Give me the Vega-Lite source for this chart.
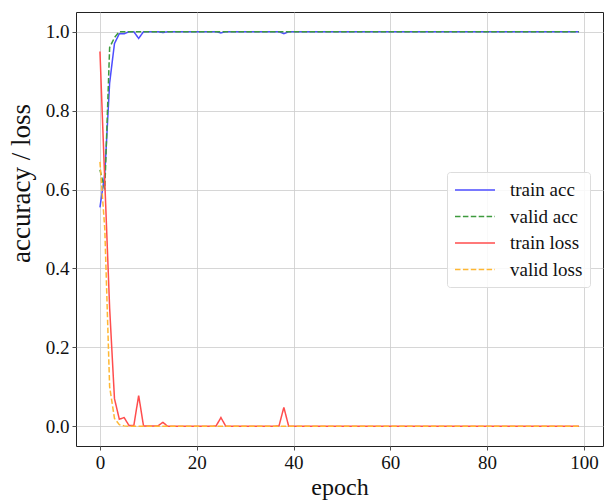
{
  "$schema": "https://vega.github.io/schema/vega-lite/v6.json",
  "width": 527,
  "height": 434,
  "autosize": "none",
  "padding": {"left": 76, "top": 12, "right": 3, "bottom": 56},
  "background": "white",
  "config": {
    "font": "Liberation Serif",
    "view": {"stroke": "#222222", "strokeWidth": 1},
    "axis": {
      "labelFont": "Liberation Serif",
      "titleFont": "Liberation Serif",
      "labelColor": "#111111",
      "titleColor": "#111111",
      "titleFontWeight": "normal",
      "domain": false,
      "tickColor": "#222222",
      "tickSize": 4,
      "tickWidth": 0.8,
      "gridColor": "#cccccc",
      "gridWidth": 0.8,
      "labelFontSize": 19,
      "titleFontSize": 25
    },
    "legend": {
      "labelFont": "Liberation Serif",
      "labelFontSize": 19,
      "labelColor": "#111111"
    }
  },
  "data": {
    "values": [
      {"epoch":0,"train_acc":0.555,"valid_acc":0.65,"train_loss":0.95,"valid_loss":0.67},
      {"epoch":1,"train_acc":0.64,"valid_acc":0.6,"train_loss":0.62,"valid_loss":0.5},
      {"epoch":2,"train_acc":0.87,"valid_acc":0.96,"train_loss":0.3,"valid_loss":0.1},
      {"epoch":3,"train_acc":0.97,"valid_acc":0.985,"train_loss":0.07,"valid_loss":0.02},
      {"epoch":4,"train_acc":0.995,"valid_acc":1,"train_loss":0.018,"valid_loss":0.004},
      {"epoch":5,"train_acc":0.995,"valid_acc":1,"train_loss":0.022,"valid_loss":0.001},
      {"epoch":6,"train_acc":1,"valid_acc":1,"train_loss":0.002,"valid_loss":0},
      {"epoch":7,"train_acc":1,"valid_acc":1,"train_loss":0.002,"valid_loss":0},
      {"epoch":8,"train_acc":0.983,"valid_acc":1,"train_loss":0.078,"valid_loss":0},
      {"epoch":9,"train_acc":1,"valid_acc":1,"train_loss":0.001,"valid_loss":0},
      {"epoch":10,"train_acc":1,"valid_acc":1,"train_loss":0.001,"valid_loss":0},
      {"epoch":11,"train_acc":1,"valid_acc":1,"train_loss":0.001,"valid_loss":0},
      {"epoch":12,"train_acc":1,"valid_acc":1,"train_loss":0.001,"valid_loss":0},
      {"epoch":13,"train_acc":0.998,"valid_acc":1,"train_loss":0.01,"valid_loss":0},
      {"epoch":14,"train_acc":1,"valid_acc":1,"train_loss":0,"valid_loss":0},
      {"epoch":15,"train_acc":1,"valid_acc":1,"train_loss":0,"valid_loss":0},
      {"epoch":16,"train_acc":1,"valid_acc":1,"train_loss":0,"valid_loss":0},
      {"epoch":17,"train_acc":1,"valid_acc":1,"train_loss":0,"valid_loss":0},
      {"epoch":18,"train_acc":1,"valid_acc":1,"train_loss":0,"valid_loss":0},
      {"epoch":19,"train_acc":1,"valid_acc":1,"train_loss":0,"valid_loss":0},
      {"epoch":20,"train_acc":1,"valid_acc":1,"train_loss":0,"valid_loss":0},
      {"epoch":21,"train_acc":1,"valid_acc":1,"train_loss":0,"valid_loss":0},
      {"epoch":22,"train_acc":1,"valid_acc":1,"train_loss":0,"valid_loss":0},
      {"epoch":23,"train_acc":1,"valid_acc":1,"train_loss":0,"valid_loss":0},
      {"epoch":24,"train_acc":1,"valid_acc":1,"train_loss":0.001,"valid_loss":0},
      {"epoch":25,"train_acc":0.997,"valid_acc":1,"train_loss":0.022,"valid_loss":0},
      {"epoch":26,"train_acc":1,"valid_acc":1,"train_loss":0,"valid_loss":0},
      {"epoch":27,"train_acc":1,"valid_acc":1,"train_loss":0,"valid_loss":0},
      {"epoch":28,"train_acc":1,"valid_acc":1,"train_loss":0,"valid_loss":0},
      {"epoch":29,"train_acc":1,"valid_acc":1,"train_loss":0,"valid_loss":0},
      {"epoch":30,"train_acc":1,"valid_acc":1,"train_loss":0,"valid_loss":0},
      {"epoch":31,"train_acc":1,"valid_acc":1,"train_loss":0,"valid_loss":0},
      {"epoch":32,"train_acc":1,"valid_acc":1,"train_loss":0,"valid_loss":0},
      {"epoch":33,"train_acc":1,"valid_acc":1,"train_loss":0,"valid_loss":0},
      {"epoch":34,"train_acc":1,"valid_acc":1,"train_loss":0,"valid_loss":0},
      {"epoch":35,"train_acc":1,"valid_acc":1,"train_loss":0,"valid_loss":0},
      {"epoch":36,"train_acc":1,"valid_acc":1,"train_loss":0,"valid_loss":0},
      {"epoch":37,"train_acc":1,"valid_acc":1,"train_loss":0.001,"valid_loss":0},
      {"epoch":38,"train_acc":0.995,"valid_acc":1,"train_loss":0.048,"valid_loss":0},
      {"epoch":39,"train_acc":1,"valid_acc":1,"train_loss":0,"valid_loss":0},
      {"epoch":40,"train_acc":1,"valid_acc":1,"train_loss":0,"valid_loss":0},
      {"epoch":41,"train_acc":1,"valid_acc":1,"train_loss":0,"valid_loss":0},
      {"epoch":42,"train_acc":1,"valid_acc":1,"train_loss":0,"valid_loss":0},
      {"epoch":43,"train_acc":1,"valid_acc":1,"train_loss":0,"valid_loss":0},
      {"epoch":44,"train_acc":1,"valid_acc":1,"train_loss":0,"valid_loss":0},
      {"epoch":45,"train_acc":1,"valid_acc":1,"train_loss":0,"valid_loss":0},
      {"epoch":46,"train_acc":1,"valid_acc":1,"train_loss":0,"valid_loss":0},
      {"epoch":47,"train_acc":1,"valid_acc":1,"train_loss":0,"valid_loss":0},
      {"epoch":48,"train_acc":1,"valid_acc":1,"train_loss":0,"valid_loss":0},
      {"epoch":49,"train_acc":1,"valid_acc":1,"train_loss":0,"valid_loss":0},
      {"epoch":50,"train_acc":1,"valid_acc":1,"train_loss":0,"valid_loss":0},
      {"epoch":51,"train_acc":1,"valid_acc":1,"train_loss":0,"valid_loss":0},
      {"epoch":52,"train_acc":1,"valid_acc":1,"train_loss":0,"valid_loss":0},
      {"epoch":53,"train_acc":1,"valid_acc":1,"train_loss":0,"valid_loss":0},
      {"epoch":54,"train_acc":1,"valid_acc":1,"train_loss":0,"valid_loss":0},
      {"epoch":55,"train_acc":1,"valid_acc":1,"train_loss":0,"valid_loss":0},
      {"epoch":56,"train_acc":1,"valid_acc":1,"train_loss":0,"valid_loss":0},
      {"epoch":57,"train_acc":1,"valid_acc":1,"train_loss":0,"valid_loss":0},
      {"epoch":58,"train_acc":1,"valid_acc":1,"train_loss":0,"valid_loss":0},
      {"epoch":59,"train_acc":1,"valid_acc":1,"train_loss":0,"valid_loss":0},
      {"epoch":60,"train_acc":1,"valid_acc":1,"train_loss":0,"valid_loss":0},
      {"epoch":61,"train_acc":1,"valid_acc":1,"train_loss":0,"valid_loss":0},
      {"epoch":62,"train_acc":1,"valid_acc":1,"train_loss":0,"valid_loss":0},
      {"epoch":63,"train_acc":1,"valid_acc":1,"train_loss":0,"valid_loss":0},
      {"epoch":64,"train_acc":1,"valid_acc":1,"train_loss":0,"valid_loss":0},
      {"epoch":65,"train_acc":1,"valid_acc":1,"train_loss":0,"valid_loss":0},
      {"epoch":66,"train_acc":1,"valid_acc":1,"train_loss":0,"valid_loss":0},
      {"epoch":67,"train_acc":1,"valid_acc":1,"train_loss":0,"valid_loss":0},
      {"epoch":68,"train_acc":1,"valid_acc":1,"train_loss":0,"valid_loss":0},
      {"epoch":69,"train_acc":1,"valid_acc":1,"train_loss":0,"valid_loss":0},
      {"epoch":70,"train_acc":1,"valid_acc":1,"train_loss":0,"valid_loss":0},
      {"epoch":71,"train_acc":1,"valid_acc":1,"train_loss":0,"valid_loss":0},
      {"epoch":72,"train_acc":1,"valid_acc":1,"train_loss":0,"valid_loss":0},
      {"epoch":73,"train_acc":1,"valid_acc":1,"train_loss":0,"valid_loss":0},
      {"epoch":74,"train_acc":1,"valid_acc":1,"train_loss":0,"valid_loss":0},
      {"epoch":75,"train_acc":1,"valid_acc":1,"train_loss":0,"valid_loss":0},
      {"epoch":76,"train_acc":1,"valid_acc":1,"train_loss":0,"valid_loss":0},
      {"epoch":77,"train_acc":1,"valid_acc":1,"train_loss":0,"valid_loss":0},
      {"epoch":78,"train_acc":1,"valid_acc":1,"train_loss":0,"valid_loss":0},
      {"epoch":79,"train_acc":1,"valid_acc":1,"train_loss":0,"valid_loss":0},
      {"epoch":80,"train_acc":1,"valid_acc":1,"train_loss":0,"valid_loss":0},
      {"epoch":81,"train_acc":1,"valid_acc":1,"train_loss":0,"valid_loss":0},
      {"epoch":82,"train_acc":1,"valid_acc":1,"train_loss":0,"valid_loss":0},
      {"epoch":83,"train_acc":1,"valid_acc":1,"train_loss":0,"valid_loss":0},
      {"epoch":84,"train_acc":1,"valid_acc":1,"train_loss":0,"valid_loss":0},
      {"epoch":85,"train_acc":1,"valid_acc":1,"train_loss":0,"valid_loss":0},
      {"epoch":86,"train_acc":1,"valid_acc":1,"train_loss":0,"valid_loss":0},
      {"epoch":87,"train_acc":1,"valid_acc":1,"train_loss":0,"valid_loss":0},
      {"epoch":88,"train_acc":1,"valid_acc":1,"train_loss":0,"valid_loss":0},
      {"epoch":89,"train_acc":1,"valid_acc":1,"train_loss":0,"valid_loss":0},
      {"epoch":90,"train_acc":1,"valid_acc":1,"train_loss":0,"valid_loss":0},
      {"epoch":91,"train_acc":1,"valid_acc":1,"train_loss":0,"valid_loss":0},
      {"epoch":92,"train_acc":1,"valid_acc":1,"train_loss":0,"valid_loss":0},
      {"epoch":93,"train_acc":1,"valid_acc":1,"train_loss":0,"valid_loss":0},
      {"epoch":94,"train_acc":1,"valid_acc":1,"train_loss":0,"valid_loss":0},
      {"epoch":95,"train_acc":1,"valid_acc":1,"train_loss":0,"valid_loss":0},
      {"epoch":96,"train_acc":1,"valid_acc":1,"train_loss":0,"valid_loss":0},
      {"epoch":97,"train_acc":1,"valid_acc":1,"train_loss":0,"valid_loss":0},
      {"epoch":98,"train_acc":1,"valid_acc":1,"train_loss":0,"valid_loss":0},
      {"epoch":99,"train_acc":1,"valid_acc":1,"train_loss":0,"valid_loss":0}
    ]
  },
  "transform": [
    {"fold": ["train_acc", "valid_acc", "train_loss", "valid_loss"], "as": ["series", "value"]}
  ],
  "mark": {"type": "line", "strokeWidth": 1.5, "clip": true},
  "encoding": {
    "x": {
      "field": "epoch",
      "type": "quantitative",
      "scale": {"domain": [-4.95, 103.95], "nice": false, "zero": false},
      "axis": {"values": [0, 20, 40, 60, 80, 100], "title": "epoch", "labelPadding": 3, "titlePadding": 3, "titleFontSize": 24, "labelFlush": false}
    },
    "y": {
      "field": "value",
      "type": "quantitative",
      "scale": {"domain": [-0.05, 1.05], "nice": false, "zero": false},
      "axis": {"values": [0, 0.2, 0.4, 0.6, 0.8, 1.0], "format": ".1f", "title": "accuracy / loss", "labelPadding": 3, "titleFontSize": 27, "titleX": -47, "titleY": 171, "titleAngle": -90, "titleAlign": "center", "titleBaseline": "alphabetic", "labelFlush": false}
    },
    "color": {
      "field": "series",
      "type": "nominal",
      "scale": {
        "domain": ["train_acc", "valid_acc", "train_loss", "valid_loss"],
        "range": ["#4d4dff", "#3d9a3d", "#ff4d4d", "#ffb733"]
      },
      "legend": {
        "title": null,
        "orient": "none",
        "legendX": 371,
        "legendY": 160,
        "symbolType": "M-2,0H2",
        "symbolSize": 400,
        "symbolStrokeWidth": 1.5,
        "symbolOffset": 10,
        "labelOffset": 24,
        "rowPadding": 5.5,
        "padding": 7,
        "fillColor": "rgba(255,255,255,0.85)",
        "strokeColor": "#dddddd",
        "cornerRadius": 3,
        "labelExpr": "replace(datum.label, '_', ' ')"
      }
    },
    "strokeDash": {
      "field": "series",
      "type": "nominal",
      "scale": {
        "domain": ["train_acc", "valid_acc", "train_loss", "valid_loss"],
        "range": [[1, 0], [5.5, 2.4], [1, 0], [5.5, 2.4]]
      },
      "legend": {
        "title": null,
        "orient": "none",
        "legendX": 371,
        "legendY": 160,
        "symbolType": "M-2,0H2",
        "symbolSize": 400,
        "symbolStrokeWidth": 1.5,
        "symbolOffset": 10,
        "labelOffset": 24,
        "rowPadding": 5.5,
        "padding": 7,
        "fillColor": "rgba(255,255,255,0.85)",
        "strokeColor": "#dddddd",
        "cornerRadius": 3,
        "labelExpr": "replace(datum.label, '_', ' ')"
      }
    }
  }
}
